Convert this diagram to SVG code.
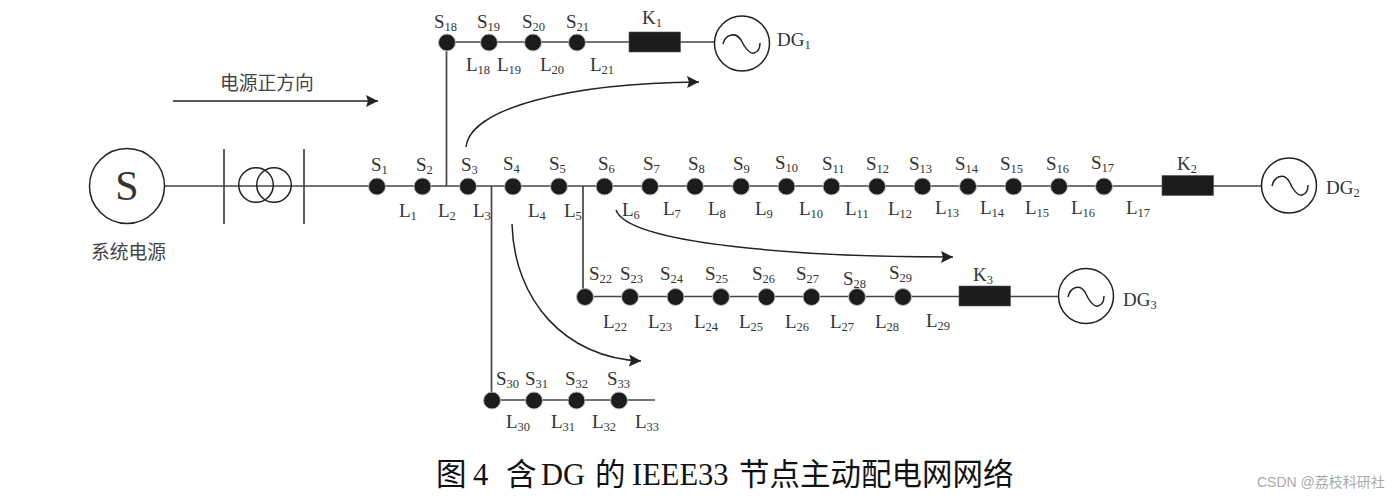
<svg xmlns="http://www.w3.org/2000/svg" width="1400" height="497" viewBox="0 0 1400 497">
<style>
text{font-family:"Liberation Serif","Noto Sans CJK SC",serif;font-size:19px;fill:#333}
.sub{font-size:12.500px}
.cn{font-family:"Noto Sans CJK SC","Liberation Sans",sans-serif;font-size:18.800px;fill:#444}
.w{fill:none;stroke:#454545;stroke-width:1.7}
.c{fill:none;stroke:#222;stroke-width:1.5}
.bus{fill:#1c1c1e;stroke:#bbb;stroke-width:1}
.sw{fill:#1c1c1e;stroke:#555;stroke-width:.6}
.gen{fill:#fff;stroke:#222;stroke-width:1.5}
.wave{fill:none;stroke:#222;stroke-width:1.5}
</style>
<defs>
<marker id="head" markerUnits="userSpaceOnUse" markerWidth="13" markerHeight="13" refX="12" refY="6.500" orient="auto"><path d="M0,0.500L12,6.500L0,12.500L2,6.500z" fill="#222"/></marker>
</defs>
<rect width="1400" height="497" fill="#fff"/>
<g id="connectors">
<path class="w" d="M164,186H536M304,186H1262"/>
<path class="w" d="M224,149V224M304,149V224"/>
<path class="w" d="M446.500,186V42H714"/>
<path class="w" d="M491.500,186V400H655"/>
<path class="w" d="M583,186V296.500H1059"/>
<path class="c" d="M173,101H378" marker-end="url(#head)"/>
<path class="c" d="M466,147C470,108 570,83 699,82" marker-end="url(#head)"/>
<path class="c" d="M616,210C628,244 800,257 953,257" marker-end="url(#head)"/>
<path class="c" d="M512,224C514,300 565,358 641,361" marker-end="url(#head)"/>
</g>
<g id="source"><circle class="gen" cx="127" cy="186" r="37.500"/><text x="127" y="200" text-anchor="middle" style="font-size:42px">S</text><text class="cn" x="91" y="259">系统电源</text></g>
<g id="transformer"><circle cx="256" cy="185" r="17.300" fill="none" stroke="#222" stroke-width="1.500"/><circle cx="274" cy="185" r="17.300" fill="none" stroke="#222" stroke-width="1.500"/></g>
<g id="direction-label"><text class="cn" x="220" y="90">电源正方向</text></g>
<g id="S1"><circle class="bus" cx="377" cy="186.500" r="8.500"/><text x="371" y="171">S<tspan class="sub" dy="3">1</tspan></text></g>
<g id="S2"><circle class="bus" cx="422.500" cy="186.500" r="8.500"/><text x="416" y="171">S<tspan class="sub" dy="3">2</tspan></text></g>
<g id="S3"><circle class="bus" cx="468" cy="186.500" r="8.500"/><text x="461" y="171">S<tspan class="sub" dy="3">3</tspan></text></g>
<g id="S4"><circle class="bus" cx="513" cy="186.500" r="8.500"/><text x="503" y="170">S<tspan class="sub" dy="3">4</tspan></text></g>
<g id="S5"><circle class="bus" cx="559" cy="186.500" r="8.500"/><text x="549" y="170">S<tspan class="sub" dy="3">5</tspan></text></g>
<g id="S6"><circle class="bus" cx="604.500" cy="186.500" r="8.500"/><text x="598" y="170">S<tspan class="sub" dy="3">6</tspan></text></g>
<g id="S7"><circle class="bus" cx="650" cy="186.500" r="8.500"/><text x="643" y="170">S<tspan class="sub" dy="3">7</tspan></text></g>
<g id="S8"><circle class="bus" cx="695" cy="186.500" r="8.500"/><text x="688" y="170">S<tspan class="sub" dy="3">8</tspan></text></g>
<g id="S9"><circle class="bus" cx="741" cy="186.500" r="8.500"/><text x="733" y="170">S<tspan class="sub" dy="3">9</tspan></text></g>
<g id="S10"><circle class="bus" cx="786.500" cy="186.500" r="8.500"/><text x="775" y="169">S<tspan class="sub" dy="3">10</tspan></text></g>
<g id="S11"><circle class="bus" cx="831.500" cy="186.500" r="8.500"/><text x="822" y="170">S<tspan class="sub" dy="3">11</tspan></text></g>
<g id="S12"><circle class="bus" cx="877" cy="186.500" r="8.500"/><text x="866" y="170">S<tspan class="sub" dy="3">12</tspan></text></g>
<g id="S13"><circle class="bus" cx="922.500" cy="186.500" r="8.500"/><text x="909" y="170">S<tspan class="sub" dy="3">13</tspan></text></g>
<g id="S14"><circle class="bus" cx="968" cy="186.500" r="8.500"/><text x="955" y="170">S<tspan class="sub" dy="3">14</tspan></text></g>
<g id="S15"><circle class="bus" cx="1013.500" cy="186.500" r="8.500"/><text x="1000" y="170">S<tspan class="sub" dy="3">15</tspan></text></g>
<g id="S16"><circle class="bus" cx="1059" cy="186.500" r="8.500"/><text x="1046" y="170">S<tspan class="sub" dy="3">16</tspan></text></g>
<g id="S17"><circle class="bus" cx="1104" cy="186.500" r="8.500"/><text x="1091" y="169">S<tspan class="sub" dy="3">17</tspan></text></g>
<g id="S18"><circle class="bus" cx="447" cy="42.500" r="8.500"/><text x="434" y="28">S<tspan class="sub" dy="3">18</tspan></text></g>
<g id="S19"><circle class="bus" cx="489" cy="42.500" r="8.500"/><text x="477" y="28">S<tspan class="sub" dy="3">19</tspan></text></g>
<g id="S20"><circle class="bus" cx="533" cy="42.500" r="8.500"/><text x="522" y="28">S<tspan class="sub" dy="3">20</tspan></text></g>
<g id="S21"><circle class="bus" cx="577" cy="42.500" r="8.500"/><text x="566" y="28">S<tspan class="sub" dy="3">21</tspan></text></g>
<g id="S22"><circle class="bus" cx="585" cy="297" r="8.500"/><text x="589" y="280">S<tspan class="sub" dy="3">22</tspan></text></g>
<g id="S23"><circle class="bus" cx="630" cy="297" r="8.500"/><text x="620" y="280">S<tspan class="sub" dy="3">23</tspan></text></g>
<g id="S24"><circle class="bus" cx="675.500" cy="297" r="8.500"/><text x="660" y="280">S<tspan class="sub" dy="3">24</tspan></text></g>
<g id="S25"><circle class="bus" cx="721" cy="297" r="8.500"/><text x="705" y="280">S<tspan class="sub" dy="3">25</tspan></text></g>
<g id="S26"><circle class="bus" cx="766.500" cy="297" r="8.500"/><text x="752" y="280">S<tspan class="sub" dy="3">26</tspan></text></g>
<g id="S27"><circle class="bus" cx="811.500" cy="297" r="8.500"/><text x="796" y="280">S<tspan class="sub" dy="3">27</tspan></text></g>
<g id="S28"><circle class="bus" cx="857" cy="297" r="8.500"/><text x="843" y="285">S<tspan class="sub" dy="3">28</tspan></text></g>
<g id="S29"><circle class="bus" cx="903" cy="297" r="8.500"/><text x="889" y="279">S<tspan class="sub" dy="3">29</tspan></text></g>
<g id="S30"><circle class="bus" cx="492" cy="400.500" r="8.500"/><text x="496" y="385">S<tspan class="sub" dy="3">30</tspan></text></g>
<g id="S31"><circle class="bus" cx="534" cy="400.500" r="8.500"/><text x="525" y="385">S<tspan class="sub" dy="3">31</tspan></text></g>
<g id="S32"><circle class="bus" cx="576.500" cy="400.500" r="8.500"/><text x="565" y="385">S<tspan class="sub" dy="3">32</tspan></text></g>
<g id="S33"><circle class="bus" cx="619" cy="400.500" r="8.500"/><text x="607" y="385">S<tspan class="sub" dy="3">33</tspan></text></g>
<g id="K1"><rect class="sw" x="629" y="32" width="51.500" height="20"/><text x="642" y="24">K<tspan class="sub" dy="3">1</tspan></text></g>
<g id="K2"><rect class="sw" x="1162" y="175.500" width="51.500" height="20"/><text x="1177" y="170">K<tspan class="sub" dy="3">2</tspan></text></g>
<g id="K3"><rect class="sw" x="959" y="286" width="51.500" height="20"/><text x="973" y="281">K<tspan class="sub" dy="3">3</tspan></text></g>
<g id="DG1"><circle class="gen" cx="742" cy="43.500" r="27.500"/><path class="wave" d="M723,44C725,35 735,31 741,40C746,50 750,54 754,53C758,52 760,48 760,43"/><text x="777" y="46">DG<tspan class="sub" dy="3">1</tspan></text></g>
<g id="DG2"><circle class="gen" cx="1289" cy="185.500" r="27.500"/><path class="wave" d="M1272,186C1274,177 1283,172 1289,181C1294,192 1298,196 1302,195C1306,194 1308,190 1308,185"/><text x="1326" y="194">DG<tspan class="sub" dy="3">2</tspan></text></g>
<g id="DG3"><circle class="gen" cx="1086" cy="296" r="27.500"/><path class="wave" d="M1068,297C1070,288 1079,283 1085,292C1090,303 1094,307 1098,306C1102,305 1104,301 1104,296"/><text x="1123" y="306">DG<tspan class="sub" dy="3">3</tspan></text></g>
<g id="line-labels">
<text x="399" y="217">L<tspan class="sub" dy="3">1</tspan></text>
<text x="438" y="217">L<tspan class="sub" dy="3">2</tspan></text>
<text x="473" y="217">L<tspan class="sub" dy="3">3</tspan></text>
<text x="528" y="217">L<tspan class="sub" dy="3">4</tspan></text>
<text x="564" y="217">L<tspan class="sub" dy="3">5</tspan></text>
<text x="622" y="216">L<tspan class="sub" dy="3">6</tspan></text>
<text x="663" y="215">L<tspan class="sub" dy="3">7</tspan></text>
<text x="708" y="215">L<tspan class="sub" dy="3">8</tspan></text>
<text x="755" y="215">L<tspan class="sub" dy="3">9</tspan></text>
<text x="799" y="215">L<tspan class="sub" dy="3">10</tspan></text>
<text x="845" y="215">L<tspan class="sub" dy="3">11</tspan></text>
<text x="888" y="215">L<tspan class="sub" dy="3">12</tspan></text>
<text x="935" y="214">L<tspan class="sub" dy="3">13</tspan></text>
<text x="980" y="214">L<tspan class="sub" dy="3">14</tspan></text>
<text x="1025" y="214">L<tspan class="sub" dy="3">15</tspan></text>
<text x="1071" y="214">L<tspan class="sub" dy="3">16</tspan></text>
<text x="1126" y="214">L<tspan class="sub" dy="3">17</tspan></text>
<text x="466" y="71">L<tspan class="sub" dy="3">18</tspan></text>
<text x="497" y="71">L<tspan class="sub" dy="3">19</tspan></text>
<text x="540" y="71">L<tspan class="sub" dy="3">20</tspan></text>
<text x="590" y="71">L<tspan class="sub" dy="3">21</tspan></text>
<text x="603" y="328">L<tspan class="sub" dy="3">22</tspan></text>
<text x="648" y="328">L<tspan class="sub" dy="3">23</tspan></text>
<text x="694" y="328">L<tspan class="sub" dy="3">24</tspan></text>
<text x="739" y="328">L<tspan class="sub" dy="3">25</tspan></text>
<text x="785" y="328">L<tspan class="sub" dy="3">26</tspan></text>
<text x="830" y="328">L<tspan class="sub" dy="3">27</tspan></text>
<text x="875" y="328">L<tspan class="sub" dy="3">28</tspan></text>
<text x="926" y="327">L<tspan class="sub" dy="3">29</tspan></text>
<text x="506" y="428">L<tspan class="sub" dy="3">30</tspan></text>
<text x="551" y="428">L<tspan class="sub" dy="3">31</tspan></text>
<text x="592" y="428">L<tspan class="sub" dy="3">32</tspan></text>
<text x="635" y="428">L<tspan class="sub" dy="3">33</tspan></text>
</g>
<text id="caption" y="485" style="font-size:30.500px;fill:#111"><tspan x="436">图</tspan><tspan x="473">4</tspan><tspan x="506">含</tspan><tspan x="541">DG</tspan><tspan x="595">的</tspan><tspan x="632">IEEE33</tspan><tspan x="739">节点主动配电网网络</tspan></text>
<text x="1257" y="487" style="font-family:'Liberation Sans','Noto Sans CJK SC',sans-serif;font-size:14px;fill:#aaa">CSDN @荔枝科研社</text>
</svg>
